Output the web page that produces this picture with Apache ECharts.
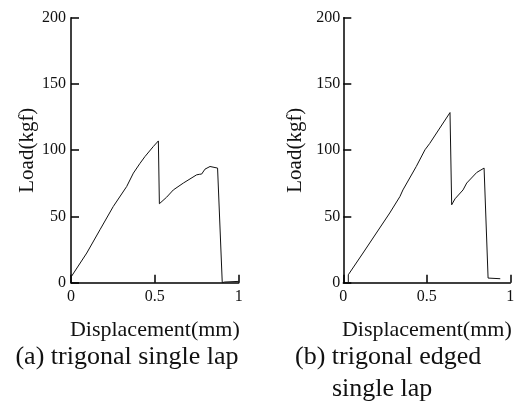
<!DOCTYPE html>
<html>
<head>
<meta charset="utf-8">
<script src="https://cdn.jsdelivr.net/npm/echarts@6/dist/echarts.min.js"></script>
<style>html,body{margin:0;padding:0;background:#fff;}#c{width:527px;height:405px;}</style>
</head>
<body>
<div id="c"></div>
<script>
// Data: [displacement (mm), load (kgf)]
var seriesA = [[0.004,5],[0.094,22.4],[0.173,40],[0.252,57.5],[0.332,72.6],[0.372,82.7],[0.411,90],[0.441,95.2],[0.491,102.8],[0.521,107],[0.527,59.6],[0.57,64.5],[0.610,70],[0.67,75.2],[0.749,81.4],[0.765,81.8],[0.779,82],[0.785,81.5],[0.79,83.5],[0.799,85.7],[0.829,87.7],[0.874,86.5],[0.878,86.3],[0.902,0],[0.915,0.5],[0.925,1],[1.0,1]];
var seriesB = [[0.03,0],[0.03,6],[0.118,22.4],[0.198,37.5],[0.278,52.6],[0.339,65],[0.357,70],[0.437,87.7],[0.489,100.3],[0.517,105],[0.639,128.4],[0.649,58.8],[0.669,63.3],[0.717,70],[0.739,75.2],[0.799,83.2],[0.843,86.5],[0.846,86],[0.867,3.5],[0.94,3]];
var xTicks = [0, 0.5, 1];
var yTicks = [0, 50, 100, 150, 200];
var xName = 'Displacement(mm)';
var yName = 'Load(kgf)';
var captionA = '(a) trigonal single lap';
var captionB1 = '(b) trigonal edged';
var captionB2 = 'single lap';

var FONT = '"Liberation Serif", "Times New Roman", serif';
var chart = echarts.init(document.getElementById('c'));

var tickStyle = {show: true, inside: true, length: 8, lineStyle: {color: '#000', width: 1.5}};

function xAxis(idx) {
  return {
    type: 'value', gridIndex: idx, min: xTicks[0], max: xTicks[xTicks.length-1], interval: 0.5,
    name: xName, nameLocation: 'middle', nameGap: 37,
    nameTextStyle: {fontFamily: FONT, fontSize: 22, color: '#111'},
    axisLine: {show: true, lineStyle: {color: '#000', width: 1.5}},
    axisTick: tickStyle,
    axisLabel: {fontFamily: FONT, fontSize: 16, color: '#111', margin: 6,
      formatter: function (v) { return String(v); }},
    splitLine: {show: false}
  };
}
function yAxis(idx, gap, lblMargin) {
  return {
    type: 'value', gridIndex: idx, min: yTicks[0], max: yTicks[yTicks.length-1], interval: 50,
    name: yName, nameLocation: 'middle', nameGap: gap, nameRotate: 90,
    nameTextStyle: {fontFamily: FONT, fontSize: 21, color: '#111'},
    axisLine: {show: true, lineStyle: {color: '#000', width: 1.5}},
    axisTick: tickStyle,
    axisLabel: {fontFamily: FONT, fontSize: 16, color: '#111', margin: lblMargin},
    splitLine: {show: false}
  };
}

chart.setOption({
  backgroundColor: '#fff',
  animation: false,
  grid: [
    {left: 71, right: 288.3, top: 17.7, bottom: 122.3},
    {left: 343.3, right: 16.7, top: 17.7, bottom: 122.3}
  ],
  xAxis: [xAxis(0), xAxis(1)],
  yAxis: [yAxis(0, 31.5, 5), yAxis(1, 37, 3)],
  series: [
    {type: 'line', xAxisIndex: 0, yAxisIndex: 0, data: seriesA, showSymbol: false,
      lineStyle: {color: '#111', width: 1}},
    {type: 'line', xAxisIndex: 1, yAxisIndex: 1, data: seriesB, showSymbol: false,
      lineStyle: {color: '#111', width: 1}}
  ],
  graphic: [
    {type: 'text', x: 127, y: 357.5, style: {text: captionA, font: '26px ' + FONT, fill: '#111', textAlign: 'center', textVerticalAlign: 'middle'}},
    {type: 'text', x: 295, y: 357.5, style: {text: captionB1, font: '26px ' + FONT, fill: '#111', textAlign: 'left', textVerticalAlign: 'middle'}},
    {type: 'text', x: 332, y: 389, style: {text: captionB2, font: '26px ' + FONT, fill: '#111', textAlign: 'left', textVerticalAlign: 'middle'}}
  ]
});
</script>
</body>
</html>
